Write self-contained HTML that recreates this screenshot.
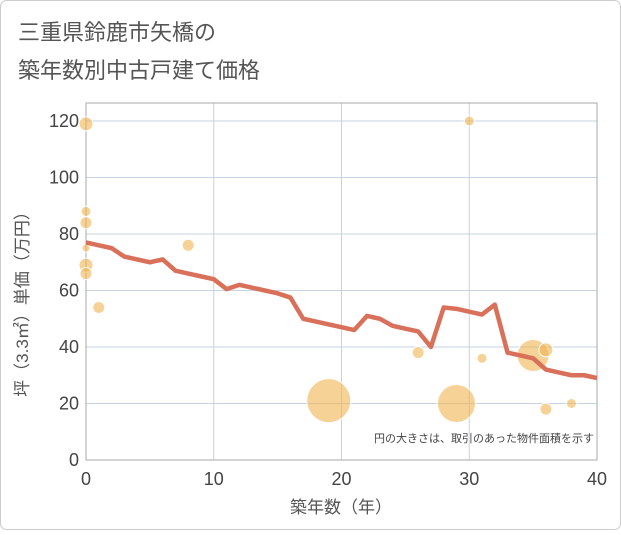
<!DOCTYPE html>
<html><head><meta charset="utf-8"><style>
body{margin:0;background:#fff;font-family:"Liberation Sans","Noto Sans CJK JP",sans-serif;}
</style></head><body>
<svg width="621" height="530" id="c" style="font-family:'Liberation Sans','Noto Sans CJK JP',sans-serif">
<rect x="0.5" y="0.5" width="620" height="529" rx="6" fill="#fff" stroke="#ccc"/>
<text x="18" y="40" font-size="22" fill="#555">三重県鈴鹿市矢橋の</text>
<text x="18" y="78" font-size="22" fill="#555">築年数別中古戸建て価格</text>
<g id="grid"></g>
<g id="bub"></g>
<g id="ln"></g>
<g id="ax"></g>
<text x="594" y="442" font-size="11" fill="#444" text-anchor="end">円の大きさは、取引のあった物件面積を示す</text>
<text x="341" y="513" font-size="17" fill="#555" text-anchor="middle">築年数（年）</text>
<text transform="translate(28,300) rotate(-90)" font-size="17" fill="#555" text-anchor="middle">坪（3.3㎡）単価（万円）</text>
</svg>
<script>
const xTicks=[0,10,20,30,40];
const yTicks=[0,20,40,60,80,100,120];
const lineYears=[0,1,2,3,4,5,6,7,8,9,10,11,12,13,14,15,16,17,18,19,20,21,22,23,24,25,26,27,28,29,30,31,32,33,34,35,36,37,38,39,40];
const lineValues=[77,76,75,72,71,70,71,67,66,65,64,60.5,62,61,60,59,57.5,50,49,48,47,46,51,50,47.5,46.5,45.5,40,54,53.5,52.5,51.5,55,38,37,36,32,31,30,30,29];
const bubbleYears=[0,0,0,0,0,0,1,8,19,26,29,30,31,35,36,36,38];
const bubblePrices=[119,88,84,75,69,66,54,76,21,38,20,120,36,37,39,18,20];
const bubbleSizes=[7,5,6,4,7,6,6,6,22,6,19,5,5,16,7,6,5];
const NS="http://www.w3.org/2000/svg";
const X0=86,X1=597,Y0=460,YT=103;
const sx=v=>X0+(v-0)/40*(X1-X0);
const sy=v=>Y0-v/120*(Y0-121);
function mk(t,a,p){const e=document.createElementNS(NS,t);for(const k in a)e.setAttribute(k,a[k]);document.getElementById(p).appendChild(e);return e;}
xTicks.forEach(t=>{const l=mk('line',{x1:sx(t),x2:sx(t),y1:YT,y2:Y0,stroke:'#c5d3e2','stroke-width':1},'grid');


const tx=mk('text',{x:sx(t),y:485,'font-size':18,fill:'#444','text-anchor':'middle'},'ax');tx.textContent=t;

});
yTicks.forEach(t=>{const l=mk('line',{x1:X0,x2:X1,y1:sy(t),y2:sy(t),stroke:'#c5d3e2','stroke-width':1},'grid');


const tx=mk('text',{x:79,y:sy(t)+6,'font-size':18,fill:'#444','text-anchor':'end'},'ax');tx.textContent=t;

});
const r=mk('rect',{x:X0,y:YT,width:X1-X0,height:Y0-YT,fill:'none',stroke:'#aaa'},'grid');


bubbleYears.forEach((y,i)=>{const c=mk('circle',{cx:sx(y),cy:sy(bubblePrices[i]),r:bubbleSizes[i],fill:'#f0b450','fill-opacity':0.6,stroke:'#fff','stroke-width':1},'bub');

});
const p=mk('polyline',{points:lineYears.map((y,i)=>sx(y)+','+sy(lineValues[i])).join(' '),fill:'none',stroke:'#d9705a','stroke-width':4.5,'stroke-linejoin':'round'},'ln');


</script>
</body></html>
